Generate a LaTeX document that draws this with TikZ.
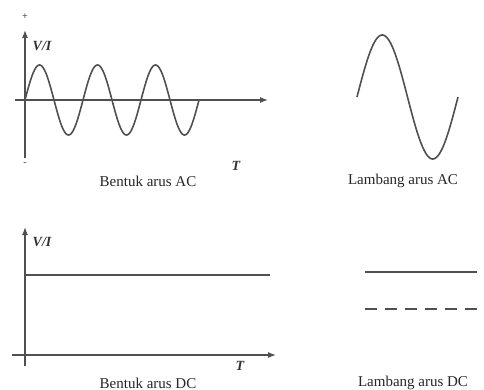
\documentclass[tikz,border=0pt]{standalone}
\usepackage{fontspec}
\setmainfont{Liberation Serif}
\usetikzlibrary{arrows.meta, positioning}
\definecolor{inkgray}{HTML}{505050}

\begin{document}
\begin{tikzpicture}[
  x=1pt, y=-1pt,
  axis/.style={draw=inkgray, line width=1.3pt, -{Latex[length=8pt, width=6pt]}},
  wave/.style={draw=inkgray, line width=1.6pt},
  caption/.style={font=\fontsize{15}{17}\selectfont, text=black!85, inner sep=0pt},
  axlabel/.style={font=\fontsize{14}{16}\selectfont\bfseries\itshape, text=black!80, inner sep=0pt},
  sign/.style={font=\fontsize{10}{11}\selectfont\bfseries, text=inkgray, inner sep=0pt}
]
\useasboundingbox (0,0) rectangle (484,390);

% AC waveform
\coordinate (acTop) at (25,30);
\coordinate (acBot) at (25,158);
\coordinate (acLeft) at (15,100);
\coordinate (acRight) at (268,100);
\draw[axis] (acBot) -- (acTop);
\draw[axis] (acLeft) -- (acRight);
\node[sign] (plus) at (25,17) {+};
\node[sign] (minus) at (25,164) {-};
\node[axlabel] (acVI) at (42,46) {V/I};
\node[axlabel] (acT) at (236,166) {T};
\draw[wave] plot[domain=25:199, samples=200, smooth] (\x, {100 - 35*sin((\x-25)/58*360)});
\node[caption] (acCap) at (148,181) {Bentuk arus AC};

% AC symbol
\draw[wave] plot[domain=357:458, samples=120, smooth] (\x, {97 - 62*sin((\x-357)/101*360)});
\node[caption] (acSym) at (403,181) {Lambang arus AC};

% DC waveform
\coordinate (dcTop) at (25,227);
\coordinate (dcBot) at (25,366);
\coordinate (dcLeft) at (12,355);
\coordinate (dcRight) at (276,355);
\coordinate (dcStart) at (25,275);
\coordinate (dcEnd) at (270,275);
\draw[axis] (dcBot) -- (dcTop);
\draw[axis] (dcLeft) -- (dcRight);
\draw[wave] (dcStart) -- (dcEnd);
\node[axlabel] (dcVI) at (42,242) {V/I};
\node[axlabel] (dcT) at (240,366) {T};
\node[caption] (dcCap) at (148,383) {Bentuk arus DC};

% DC symbol
\coordinate (solidA) at (365,272);
\coordinate (solidB) at (477,272);
\coordinate (dashA) at (365,309);
\coordinate (dashB) at (477,309);
\draw[wave] (solidA) -- (solidB);
\draw[wave, dash pattern=on 12pt off 8pt] (dashA) -- (dashB);
\node[caption] (dcSym) at (413,383) {Lambang arus DC};

\end{tikzpicture}
\end{document}
